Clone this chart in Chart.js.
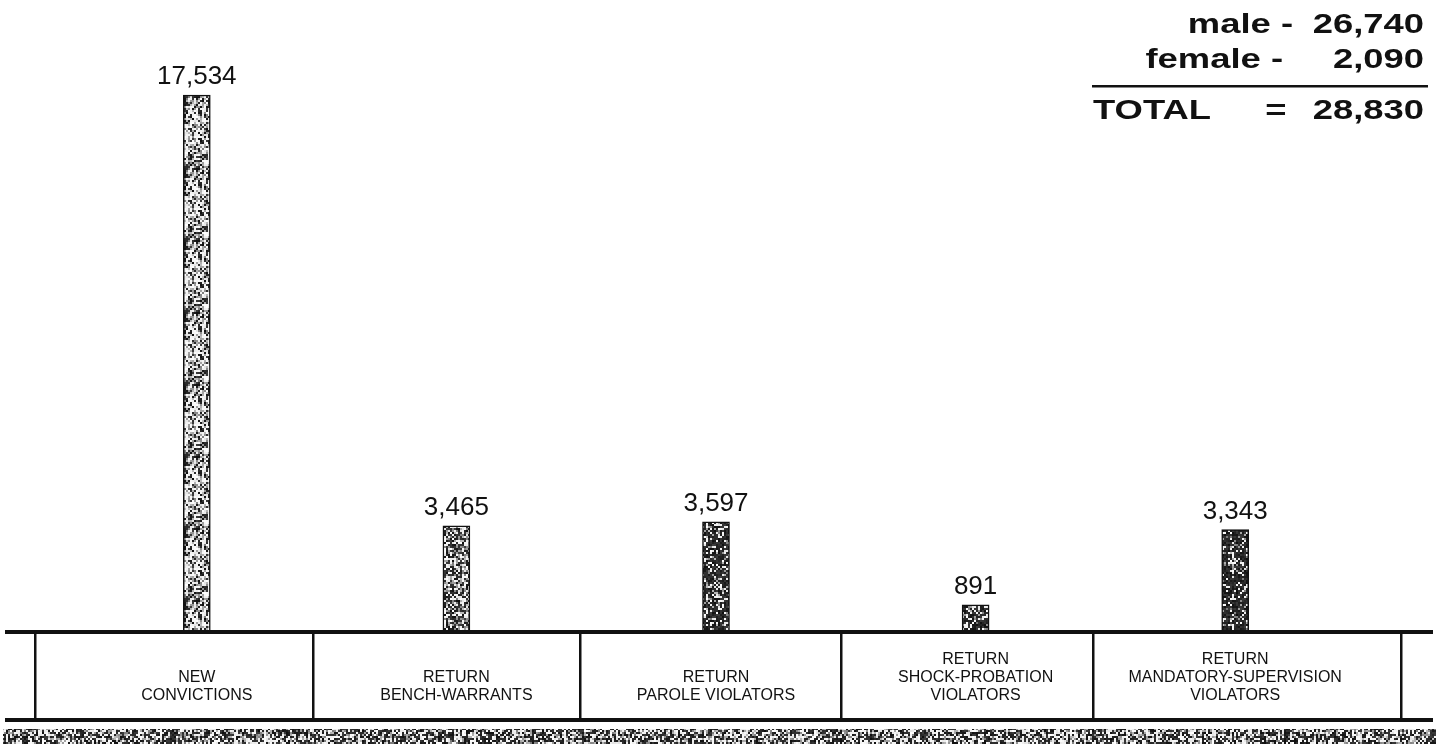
<!DOCTYPE html>
<html>
<head>
<meta charset="utf-8">
<script src="https://cdn.jsdelivr.net/npm/chart.js@4.4.1/dist/chart.umd.min.js"></script>
<style>
    html, body { margin: 0; padding: 0; background: #fff; }
    #wrap { width: 1439px; height: 744px; }
</style>
</head>
<body>
<div id="wrap"><canvas id="admChart" width="1439" height="744"></canvas></div>
<script>
    // ─── DATA ───
    const categories = [
        ['', 'NEW', 'CONVICTIONS'],
        ['', 'RETURN', 'BENCH-WARRANTS'],
        ['', 'RETURN', 'PAROLE VIOLATORS'],
        ['RETURN', 'SHOCK-PROBATION', 'VIOLATORS'],
        ['RETURN', 'MANDATORY-SUPERVISION', 'VIOLATORS']
    ];
    const admissions = [17534, 3465, 3597, 891, 3343];
    const sexLabels = ['male -', 'female -'];
    const sexTotals = [26740, 2090];
    const totalLabel = 'TOTAL';
    const grandTotal = 28830;

    const FONT = '"Liberation Sans", Arial, Helvetica, sans-serif';
    const fmt = v => v.toLocaleString('en-US');

    // ─── STIPPLE TEXTURES ───
    function rng(seed) {
        return function() {
            seed = seed + 0x6D2B79F5 | 0;
            let t = Math.imul(seed ^ seed >>> 15, 1 | seed);
            t = t + Math.imul(t ^ t >>> 7, 61 | t) ^ t;
            return ((t ^ t >>> 14) >>> 0) / 4294967296;
        };
    }

    // grainy fill, cell = grain size in px
    function stipple(density, seed, w, h, cell) {
        const c = document.createElement('canvas');
        c.width = w; c.height = h;
        const g = c.getContext('2d');
        const r = rng(seed);
        g.fillStyle = '#fff';
        g.fillRect(0, 0, w, h);
        for (let y = 0; y < h; y += cell) {
            for (let x = 0; x < w; x += cell) {
                const v = r();
                let col;
                if (v < density) col = 15 + r() * 45;
                else if (v < density + (1 - density) * 0.35) col = 120 + r() * 70;
                else col = 228 + r() * 27;
                col = Math.round(col);
                g.fillStyle = `rgb(${col},${col},${col})`;
                g.fillRect(x, y, cell, cell);
            }
        }
        return g.createPattern(c, 'repeat');
    }

    const barFills = [
        stipple(0.30, 11, 36, 72, 2),
        stipple(0.44, 23, 36, 72, 2),
        stipple(0.70, 37, 36, 72, 2),
        stipple(0.64, 41, 36, 72, 2),
        stipple(0.78, 59, 36, 72, 2)
    ];
    const bandFill = stipple(0.48, 77, 1440, 16, 2);

    function stretchText(ctx, text, x, y, align, sx) {
        ctx.save();
        ctx.translate(x, y);
        ctx.scale(sx, 1);
        ctx.textAlign = align;
        ctx.fillText(text, 0, 0);
        ctx.restore();
    }

    // ─── DECOR: value labels, box, band, totals ───
    const decor = {
        id: 'decor',
        afterDatasetsDraw(chart) {
            const ctx = chart.ctx;
            const area = chart.chartArea;
            ctx.save();

            // value labels over bars
            ctx.fillStyle = '#111';
            ctx.font = '26px ' + FONT;
            ctx.textAlign = 'center';
            ctx.textBaseline = 'alphabetic';
            chart.getDatasetMeta(0).data.forEach((bar, i) => {
                ctx.fillText(fmt(admissions[i]), bar.x, bar.y - 11);
            });

            // category box
            ctx.fillRect(5, area.bottom - 2, 1428, 4);
            ctx.fillRect(5, 718, 1428, 4);
            [35, 313, 580, 841, 1093, 1401].forEach(x => {
                ctx.fillRect(x - 1, area.bottom, 2.5, 718 - area.bottom);
            });

            // textured band at the foot
            ctx.fillStyle = bandFill;
            ctx.fillRect(3, 729, 1433, 15);

            // totals block
            ctx.fillStyle = '#111';
            ctx.font = 'bold 28px ' + FONT;
            ctx.textBaseline = 'alphabetic';
            stretchText(ctx, sexLabels[0], 1293, 33, 'right', 1.3);
            stretchText(ctx, fmt(sexTotals[0]), 1424, 33, 'right', 1.3);
            stretchText(ctx, sexLabels[1], 1283, 68, 'right', 1.3);
            stretchText(ctx, fmt(sexTotals[1]), 1424, 68, 'right', 1.3);
            ctx.fillRect(1092, 85, 336, 2.5);
            stretchText(ctx, totalLabel, 1093, 119, 'left', 1.3);
            stretchText(ctx, '=', 1276, 119, 'center', 1.3);
            stretchText(ctx, fmt(grandTotal), 1424, 119, 'right', 1.3);

            ctx.restore();
        }
    };

    // ─── CHART ───
    const ctx = document.getElementById('admChart').getContext('2d');
    const admChart = new Chart(ctx, {
        type: 'bar',
        data: {
            labels: categories,
            datasets: [{
                data: admissions,
                backgroundColor: barFills,
                borderColor: '#111',
                borderWidth: 1.5,
                barThickness: 27
            }]
        },
        options: {
            responsive: false,
            devicePixelRatio: 1,
            animation: false,
            events: [],
            layout: { padding: { left: 67, right: 74, top: 40, bottom: 0 } },
            plugins: { legend: { display: false }, tooltip: { enabled: false } },
            scales: {
                y: { display: false, min: 0, max: 19330 },
                x: {
                    grid: { display: false, drawTicks: false },
                    border: { display: false },
                    ticks: {
                        color: '#111',
                        padding: 19,
                        maxRotation: 0,
                        autoSkip: false,
                        font: { family: FONT, size: 16, lineHeight: 1.125 }
                    },
                    afterFit: scale => { scale.height = 112; }
                }
            }
        },
        plugins: [decor]
    });
</script>
</body>
</html>
